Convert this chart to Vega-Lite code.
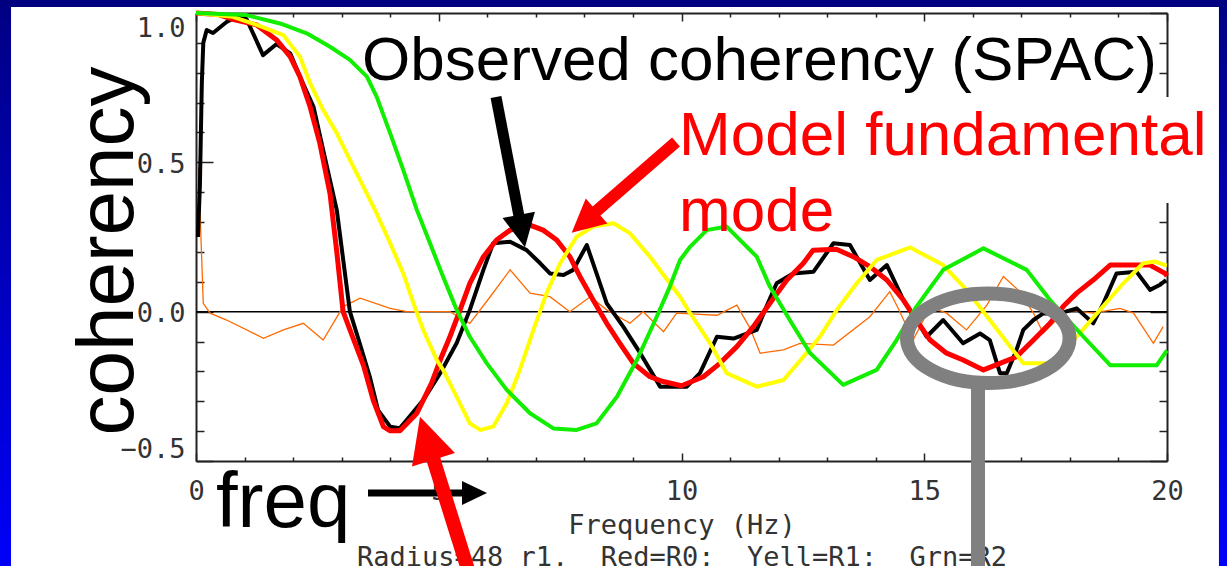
{
  "$schema": "https://vega.github.io/schema/vega-lite/v6.json",
  "width": 971,
  "height": 448,
  "autosize": {"type": "none"},
  "padding": {"left": 196, "top": 13, "right": 60, "bottom": 105},
  "background": "white",
  "config": {"view": {"stroke": null}, "axis": {"grid": false}},
  "datasets": {
    "strips_side": [{"f": -4.3, "f2": -3.81, "v": 1.1, "v2": -0.95}, {"f": 21.07, "f2": 21.4, "v": 1.1, "v2": -0.95}],
    "strip_top": [{"f": -4.3, "f2": 21.4, "v": 1.1, "v2": 1.0201}],
    "zero": [{"f": 0, "f2": 20, "v": 0}],
    "orange": [
      {"f": 0.05, "v": 0.485}, {"f": 0.15, "v": 0.028}, {"f": 0.29, "v": -0.005}, {"f": 0.63, "v": -0.028},
      {"f": 1.39, "v": -0.089}, {"f": 1.8, "v": -0.061}, {"f": 2.21, "v": -0.039}, {"f": 2.62, "v": -0.095},
      {"f": 3.03, "v": 0.017}, {"f": 3.38, "v": 0.045}, {"f": 4.0, "v": 0.011}, {"f": 4.34, "v": 0.0},
      {"f": 5.23, "v": 0.0}, {"f": 5.64, "v": -0.039}, {"f": 6.06, "v": 0.05}, {"f": 6.47, "v": 0.14},
      {"f": 6.88, "v": 0.062}, {"f": 7.29, "v": 0.05}, {"f": 7.7, "v": 0.0}, {"f": 8.12, "v": 0.05},
      {"f": 8.46, "v": 0.006}, {"f": 8.94, "v": -0.039}, {"f": 9.21, "v": 0.0}, {"f": 9.63, "v": -0.067},
      {"f": 9.9, "v": -0.005}, {"f": 10.73, "v": -0.012}, {"f": 11.14, "v": 0.022}, {"f": 11.41, "v": -0.055},
      {"f": 11.62, "v": -0.139}, {"f": 12.1, "v": -0.128}, {"f": 12.44, "v": -0.106}, {"f": 13.13, "v": -0.112},
      {"f": 13.88, "v": -0.017}, {"f": 14.29, "v": 0.067}, {"f": 14.46, "v": 0.012}, {"f": 14.77, "v": -0.095},
      {"f": 15.12, "v": 0.016}, {"f": 15.46, "v": -0.005}, {"f": 15.87, "v": -0.061}, {"f": 16.29, "v": 0.022},
      {"f": 16.63, "v": 0.118}, {"f": 16.93, "v": 0.073}, {"f": 17.25, "v": -0.005}, {"f": 17.45, "v": -0.072},
      {"f": 17.93, "v": 0.006}, {"f": 18.48, "v": -0.005}, {"f": 19.03, "v": 0.011}, {"f": 19.31, "v": -0.005},
      {"f": 19.72, "v": -0.106}, {"f": 19.92, "v": -0.05}
    ],
    "black": [
      {"f": 0.04, "v": 0.25}, {"f": 0.08, "v": 0.42}, {"f": 0.12, "v": 0.765}, {"f": 0.15, "v": 0.9},
      {"f": 0.22, "v": 0.943}, {"f": 0.35, "v": 0.933}, {"f": 0.63, "v": 0.97}, {"f": 0.82, "v": 0.987},
      {"f": 1.04, "v": 0.98}, {"f": 1.38, "v": 0.859}, {"f": 1.66, "v": 0.896}, {"f": 1.94, "v": 0.865},
      {"f": 2.14, "v": 0.787}, {"f": 2.42, "v": 0.686}, {"f": 2.62, "v": 0.541}, {"f": 2.9, "v": 0.34},
      {"f": 3.17, "v": 0.0}, {"f": 3.38, "v": -0.11}, {"f": 3.58, "v": -0.218}, {"f": 3.75, "v": -0.33},
      {"f": 4.0, "v": -0.385}, {"f": 4.2, "v": -0.39}, {"f": 4.34, "v": -0.363}, {"f": 4.68, "v": -0.296},
      {"f": 5.03, "v": -0.206}, {"f": 5.37, "v": -0.105}, {"f": 5.64, "v": 0.006}, {"f": 5.92, "v": 0.14},
      {"f": 6.12, "v": 0.229}, {"f": 6.47, "v": 0.234}, {"f": 6.81, "v": 0.206}, {"f": 7.09, "v": 0.162},
      {"f": 7.29, "v": 0.128}, {"f": 7.57, "v": 0.123}, {"f": 7.77, "v": 0.14}, {"f": 8.05, "v": 0.223},
      {"f": 8.25, "v": 0.128}, {"f": 8.46, "v": 0.028}, {"f": 8.8, "v": -0.05}, {"f": 9.15, "v": -0.139},
      {"f": 9.56, "v": -0.251}, {"f": 10.11, "v": -0.251}, {"f": 10.38, "v": -0.206}, {"f": 10.73, "v": -0.084},
      {"f": 11.07, "v": -0.09}, {"f": 11.55, "v": -0.061}, {"f": 11.75, "v": 0.017}, {"f": 11.96, "v": 0.095},
      {"f": 12.3, "v": 0.128}, {"f": 12.72, "v": 0.134}, {"f": 13.13, "v": 0.229}, {"f": 13.47, "v": 0.223},
      {"f": 13.88, "v": 0.106}, {"f": 14.23, "v": 0.156}, {"f": 14.57, "v": 0.039}, {"f": 14.88, "v": -0.039},
      {"f": 15.05, "v": -0.084}, {"f": 15.39, "v": -0.028}, {"f": 15.8, "v": -0.106}, {"f": 16.15, "v": -0.073},
      {"f": 16.35, "v": -0.095}, {"f": 16.56, "v": -0.206}, {"f": 16.7, "v": -0.206}, {"f": 16.9, "v": -0.128},
      {"f": 17.04, "v": -0.061}, {"f": 17.25, "v": -0.028}, {"f": 17.45, "v": -0.006}, {"f": 17.8, "v": -0.006},
      {"f": 18.14, "v": 0.011}, {"f": 18.48, "v": -0.039}, {"f": 18.69, "v": 0.028}, {"f": 18.96, "v": 0.128},
      {"f": 19.37, "v": 0.134}, {"f": 19.65, "v": 0.073}, {"f": 19.86, "v": 0.09}, {"f": 19.98, "v": 0.106}
    ],
    "red": [
      {"f": 0.0, "v": 1.0}, {"f": 0.45, "v": 0.995}, {"f": 0.73, "v": 0.98}, {"f": 1.25, "v": 0.96},
      {"f": 1.66, "v": 0.91}, {"f": 1.94, "v": 0.854}, {"f": 2.14, "v": 0.787}, {"f": 2.35, "v": 0.686},
      {"f": 2.55, "v": 0.564}, {"f": 2.76, "v": 0.396}, {"f": 2.9, "v": 0.2}, {"f": 3.03, "v": 0.0},
      {"f": 3.24, "v": -0.09}, {"f": 3.45, "v": -0.18}, {"f": 3.65, "v": -0.296}, {"f": 3.86, "v": -0.385},
      {"f": 4.0, "v": -0.399}, {"f": 4.2, "v": -0.399}, {"f": 4.55, "v": -0.34}, {"f": 4.85, "v": -0.24},
      {"f": 5.03, "v": -0.162}, {"f": 5.23, "v": -0.084}, {"f": 5.44, "v": 0.006}, {"f": 5.64, "v": 0.095},
      {"f": 5.92, "v": 0.184}, {"f": 6.19, "v": 0.24}, {"f": 6.47, "v": 0.273}, {"f": 6.88, "v": 0.29},
      {"f": 7.15, "v": 0.273}, {"f": 7.43, "v": 0.24}, {"f": 7.7, "v": 0.184}, {"f": 7.91, "v": 0.117},
      {"f": 8.18, "v": 0.039}, {"f": 8.46, "v": -0.039}, {"f": 8.73, "v": -0.106}, {"f": 9.01, "v": -0.173},
      {"f": 9.35, "v": -0.218}, {"f": 9.62, "v": -0.234}, {"f": 10.0, "v": -0.248}, {"f": 10.45, "v": -0.218},
      {"f": 10.79, "v": -0.173}, {"f": 11.14, "v": -0.117}, {"f": 11.48, "v": -0.05}, {"f": 11.82, "v": 0.028},
      {"f": 12.17, "v": 0.106}, {"f": 12.51, "v": 0.162}, {"f": 12.71, "v": 0.206}, {"f": 13.19, "v": 0.209},
      {"f": 13.54, "v": 0.184}, {"f": 13.88, "v": 0.151}, {"f": 14.23, "v": 0.106}, {"f": 14.57, "v": 0.039},
      {"f": 14.84, "v": -0.028}, {"f": 15.12, "v": -0.095}, {"f": 15.46, "v": -0.139}, {"f": 15.8, "v": -0.162},
      {"f": 16.22, "v": -0.195}, {"f": 16.56, "v": -0.173}, {"f": 16.9, "v": -0.151}, {"f": 17.25, "v": -0.095},
      {"f": 17.59, "v": -0.039}, {"f": 17.86, "v": 0.017}, {"f": 18.14, "v": 0.062}, {"f": 18.48, "v": 0.106},
      {"f": 18.83, "v": 0.156}, {"f": 19.65, "v": 0.156}, {"f": 19.96, "v": 0.128}, {"f": 20.0, "v": 0.12}
    ],
    "yellow": [
      {"f": 0.0, "v": 1.0}, {"f": 0.76, "v": 0.987}, {"f": 1.25, "v": 0.96}, {"f": 1.8, "v": 0.926},
      {"f": 2.14, "v": 0.854}, {"f": 2.35, "v": 0.765}, {"f": 2.62, "v": 0.675}, {"f": 2.9, "v": 0.597},
      {"f": 3.17, "v": 0.508}, {"f": 3.45, "v": 0.418}, {"f": 3.72, "v": 0.329}, {"f": 4.0, "v": 0.229},
      {"f": 4.27, "v": 0.128}, {"f": 4.48, "v": 0.028}, {"f": 4.68, "v": -0.061}, {"f": 4.96, "v": -0.162},
      {"f": 5.09, "v": -0.195}, {"f": 5.37, "v": -0.285}, {"f": 5.64, "v": -0.374}, {"f": 5.85, "v": -0.396},
      {"f": 6.12, "v": -0.385}, {"f": 6.4, "v": -0.307}, {"f": 6.67, "v": -0.195}, {"f": 6.95, "v": -0.061},
      {"f": 7.22, "v": 0.062}, {"f": 7.5, "v": 0.162}, {"f": 7.84, "v": 0.251}, {"f": 8.18, "v": 0.285},
      {"f": 8.6, "v": 0.296}, {"f": 8.94, "v": 0.262}, {"f": 9.35, "v": 0.184}, {"f": 9.69, "v": 0.11},
      {"f": 9.97, "v": 0.05}, {"f": 10.18, "v": -0.006}, {"f": 10.59, "v": -0.106}, {"f": 10.93, "v": -0.206},
      {"f": 11.55, "v": -0.251}, {"f": 12.1, "v": -0.229}, {"f": 12.51, "v": -0.151}, {"f": 12.85, "v": -0.084},
      {"f": 13.2, "v": 0.006}, {"f": 13.61, "v": 0.095}, {"f": 14.02, "v": 0.173}, {"f": 14.71, "v": 0.215},
      {"f": 15.39, "v": 0.156}, {"f": 15.87, "v": 0.073}, {"f": 16.35, "v": -0.028}, {"f": 16.77, "v": -0.117},
      {"f": 17.04, "v": -0.173}, {"f": 17.59, "v": -0.173}, {"f": 18.14, "v": -0.084}, {"f": 18.62, "v": 0.006},
      {"f": 19.1, "v": 0.095}, {"f": 19.51, "v": 0.162}, {"f": 19.75, "v": 0.168}, {"f": 19.96, "v": 0.156},
      {"f": 20.0, "v": 0.155}
    ],
    "green": [
      {"f": 0.0, "v": 1.0}, {"f": 1.04, "v": 0.993}, {"f": 1.73, "v": 0.965}, {"f": 2.28, "v": 0.932},
      {"f": 2.76, "v": 0.887}, {"f": 3.17, "v": 0.843}, {"f": 3.52, "v": 0.787}, {"f": 3.72, "v": 0.72},
      {"f": 4.0, "v": 0.597}, {"f": 4.27, "v": 0.474}, {"f": 4.55, "v": 0.34}, {"f": 4.82, "v": 0.229},
      {"f": 5.09, "v": 0.117}, {"f": 5.37, "v": 0.006}, {"f": 5.64, "v": -0.084}, {"f": 5.99, "v": -0.173},
      {"f": 6.4, "v": -0.262}, {"f": 6.88, "v": -0.34}, {"f": 7.36, "v": -0.391}, {"f": 7.84, "v": -0.396},
      {"f": 8.25, "v": -0.374}, {"f": 8.67, "v": -0.285}, {"f": 9.08, "v": -0.162}, {"f": 9.49, "v": -0.017},
      {"f": 9.76, "v": 0.084}, {"f": 9.97, "v": 0.173}, {"f": 10.18, "v": 0.218}, {"f": 10.52, "v": 0.273},
      {"f": 10.93, "v": 0.285}, {"f": 11.55, "v": 0.184}, {"f": 11.82, "v": 0.084}, {"f": 12.23, "v": -0.028},
      {"f": 12.65, "v": -0.139}, {"f": 13.33, "v": -0.245}, {"f": 14.02, "v": -0.195}, {"f": 14.43, "v": -0.095},
      {"f": 14.84, "v": 0.017}, {"f": 15.39, "v": 0.14}, {"f": 16.22, "v": 0.212}, {"f": 17.11, "v": 0.14},
      {"f": 17.59, "v": 0.039}, {"f": 18.28, "v": -0.084}, {"f": 18.83, "v": -0.179}, {"f": 19.79, "v": -0.179},
      {"f": 19.96, "v": -0.139}, {"f": 20.0, "v": -0.13}
    ],
    "box": [{"f": 9.87, "f2": 21.05, "v": 0.719, "v2": 0.364}],
    "t_obs": [{"f": 3.42, "v": 0.776, "label": "Observed coherency (SPAC)"}],
    "t_model": [{"f": 9.95, "v": 0.5246, "label": "Model fundamental"}, {"f": 9.95, "v": 0.27, "label": "mode"}],
    "t_freq": [{"f": 0.41, "v": -0.721, "label": "freq"}],
    "t_coh": [{"f": -1.3, "v": 0.203, "label": "coherency"}],
    "a1_shaft": [{"f": 3.543, "v": -0.6071, "f2": 5.643, "v2": -0.6071}],
    "a1_tip": [{"f": 5.994, "v": -0.6071}],
    "a2_shaft": [{"f": 6.179, "v": 0.7188, "f2": 6.667, "v2": 0.3076}],
    "a2_tip": [{"f": 6.776, "v": 0.2155}],
    "a3_shaft": [{"f": 9.887, "v": 0.568, "f2": 8.173, "v2": 0.326}],
    "a3_tip": [{"f": 7.738, "v": 0.2644}],
    "a4_shaft": [{"f": 5.668, "v": -0.898, "f2": 4.861, "v2": -0.4796}],
    "a4_tip": [{"f": 4.614, "v": -0.3517}],
    "ellipse": [{"f": 16.319, "v": -0.0892}],
    "stem": [{"f": 16.107, "v": -0.2556, "v2": -0.898}]
  },
  "encoding": {
    "x": {"field": "f", "type": "quantitative", "scale": {"domain": [0, 20], "nice": false, "zero": false}, "axis": null},
    "y": {"field": "v", "type": "quantitative", "scale": {"domain": [-0.5, 1], "nice": false, "zero": false}, "axis": null}
  },
  "resolve": {"axis": {"x": "independent", "y": "independent"}},
  "layer": [
    {
      "data": {"name": "strips_side"},
      "mark": {"type": "rect", "fill": {"gradient": "linear", "x1": 0, "y1": 0, "x2": 0, "y2": 1, "stops": [{"offset": 0, "color": "#000080"}, {"offset": 1, "color": "#0000ff"}]}},
      "encoding": {"x2": {"field": "f2"}, "y2": {"field": "v2"}}
    },
    {
      "data": {"name": "strip_top"},
      "mark": {"type": "rect", "fill": "#000080"},
      "encoding": {"x2": {"field": "f2"}, "y2": {"field": "v2"}}
    },
    {
      "data": {"name": "zero"},
      "mark": {"type": "rule", "color": "#000000", "strokeWidth": 1.5},
      "encoding": {"x2": {"field": "f2"}}
    },
    {
      "data": {"name": "orange"},
      "mark": {"type": "line", "color": "#ff6a00", "strokeWidth": 1.3},
      "encoding": {
        "x": {"field": "f", "type": "quantitative", "scale": {"domain": [0, 20], "nice": false, "zero": false},
          "axis": {"orient": "bottom", "values": [0, 5, 10, 15, 20], "format": "d", "ticks": false, "domain": true, "domainColor": "#222222", "domainWidth": 2, "grid": false,
            "labelFont": "DejaVu Sans Mono", "labelFontSize": 27, "labelColor": "#333333", "labelPadding": 17, "labelFlush": false, "labelOverlap": false,
            "title": ["Frequency (Hz)", "Radius=48 r1,\u00a0 Red=R0;\u00a0 Yell=R1;\u00a0 Grn=R2"], "titleFont": "DejaVu Sans Mono", "titleFontSize": 27, "titleFontWeight": "normal", "titleColor": "#333333",
            "titleY": 72, "titleBaseline": "alphabetic", "titleLineHeight": 32}},
        "y": {"field": "v", "type": "quantitative", "scale": {"domain": [-0.5, 1], "nice": false, "zero": false},
          "axis": {"orient": "left", "values": [-0.5, 0, 0.5, 1], "format": ".1f", "ticks": false, "domain": true, "domainColor": "#222222", "domainWidth": 2, "grid": false,
            "labelFont": "DejaVu Sans Mono", "labelFontSize": 27, "labelColor": "#333333", "labelPadding": 11, "labelFlush": true, "labelOffset": 2, "labelOverlap": false, "title": null}}
      }
    },
    {
      "data": {"name": "black"},
      "mark": {"type": "line", "color": "#000000", "strokeWidth": 4, "strokeJoin": "round"},
      "encoding": {
        "x": {"field": "f", "type": "quantitative", "scale": {"domain": [0, 20], "nice": false, "zero": false},
          "axis": {"orient": "bottom", "values": [0, 5, 10, 15, 20], "ticks": true, "tickSize": -8, "tickColor": "#222222", "tickWidth": 1.5, "labels": false, "domain": false, "grid": false, "title": null}},
        "y": {"field": "v", "type": "quantitative", "scale": {"domain": [-0.5, 1], "nice": false, "zero": false},
          "axis": {"orient": "left", "values": [-0.5, 0, 0.5, 1], "ticks": true, "tickSize": -17, "tickColor": "#222222", "tickWidth": 1.5, "labels": false, "domain": false, "grid": false, "title": null}}
      }
    },
    {
      "data": {"name": "red"},
      "mark": {"type": "line", "color": "#ff0000", "strokeWidth": 5, "strokeJoin": "round"},
      "encoding": {
        "x": {"field": "f", "type": "quantitative", "scale": {"domain": [0, 20], "nice": false, "zero": false},
          "axis": {"orient": "bottom", "values": [1, 2, 3, 4, 6, 7, 8, 9, 11, 12, 13, 14, 16, 17, 18, 19], "ticks": true, "tickSize": -4, "tickColor": "#222222", "tickWidth": 1.5, "labels": false, "domain": false, "grid": false, "title": null}},
        "y": {"field": "v", "type": "quantitative", "scale": {"domain": [-0.5, 1], "nice": false, "zero": false},
          "axis": {"orient": "left", "values": [-0.4, -0.3, -0.2, -0.1, 0.1, 0.2, 0.3, 0.4, 0.6, 0.7, 0.8, 0.9], "ticks": true, "tickSize": -8, "tickColor": "#222222", "tickWidth": 1.5, "labels": false, "domain": false, "grid": false, "title": null}}
      }
    },
    {
      "data": {"name": "yellow"},
      "mark": {"type": "line", "color": "#ffff00", "strokeWidth": 4, "strokeJoin": "round"},
      "encoding": {
        "x": {"field": "f", "type": "quantitative", "scale": {"domain": [0, 20], "nice": false, "zero": false},
          "axis": {"orient": "top", "values": [0, 5, 10, 15, 20], "ticks": true, "tickSize": -8, "tickColor": "#222222", "tickWidth": 1.5, "labels": false, "domain": true, "domainColor": "#222222", "domainWidth": 2, "grid": false, "title": null}},
        "y": {"field": "v", "type": "quantitative", "scale": {"domain": [-0.5, 1], "nice": false, "zero": false},
          "axis": {"orient": "right", "values": [-0.5, 0, 0.5, 1], "ticks": true, "tickSize": -17, "tickColor": "#222222", "tickWidth": 1.5, "labels": false, "domain": true, "domainColor": "#222222", "domainWidth": 2, "grid": false, "title": null}}
      }
    },
    {
      "data": {"name": "green"},
      "mark": {"type": "line", "color": "#11ee00", "strokeWidth": 4, "strokeJoin": "round"},
      "encoding": {
        "x": {"field": "f", "type": "quantitative", "scale": {"domain": [0, 20], "nice": false, "zero": false},
          "axis": {"orient": "top", "values": [1, 2, 3, 4, 6, 7, 8, 9, 11, 12, 13, 14, 16, 17, 18, 19], "ticks": true, "tickSize": -4, "tickColor": "#222222", "tickWidth": 1.5, "labels": false, "domain": false, "grid": false, "title": null}},
        "y": {"field": "v", "type": "quantitative", "scale": {"domain": [-0.5, 1], "nice": false, "zero": false},
          "axis": {"orient": "right", "values": [-0.4, -0.3, -0.2, -0.1, 0.1, 0.2, 0.3, 0.4, 0.6, 0.7, 0.8, 0.9], "ticks": true, "tickSize": -8, "tickColor": "#222222", "tickWidth": 1.5, "labels": false, "domain": false, "grid": false, "title": null}}
      }
    },
    {
      "data": {"name": "box"},
      "mark": {"type": "rect", "fill": "#ffffff"},
      "encoding": {"x2": {"field": "f2"}, "y2": {"field": "v2"}}
    },
    {
      "data": {"name": "t_obs"},
      "mark": {"type": "text", "font": "Liberation Sans", "fontSize": 62, "color": "#000000", "align": "left", "baseline": "alphabetic"},
      "encoding": {"text": {"field": "label"}}
    },
    {
      "data": {"name": "t_model"},
      "mark": {"type": "text", "font": "Liberation Sans", "fontSize": 62, "color": "#ff0000", "align": "left", "baseline": "alphabetic"},
      "encoding": {"text": {"field": "label"}}
    },
    {
      "data": {"name": "t_freq"},
      "mark": {"type": "text", "font": "Liberation Sans", "fontSize": 78, "color": "#000000", "align": "left", "baseline": "alphabetic"},
      "encoding": {"text": {"field": "label"}}
    },
    {
      "data": {"name": "t_coh"},
      "mark": {"type": "text", "font": "Liberation Sans", "fontSize": 80, "color": "#000000", "align": "center", "baseline": "alphabetic", "angle": 270},
      "encoding": {"text": {"field": "label"}}
    },
    {
      "data": {"name": "a1_shaft"},
      "mark": {"type": "rule", "color": "#000000", "strokeWidth": 7, "strokeCap": "butt"},
      "encoding": {"x2": {"field": "f2"}, "y2": {"field": "v2"}}
    },
    {
      "data": {"name": "a1_tip"},
      "mark": {"type": "point", "shape": "M 0 0 L -1 -0.48 L -1 0.48 Z", "size": 2500, "angle": 0, "filled": true, "color": "#000000", "opacity": 1, "strokeWidth": 0}
    },
    {
      "data": {"name": "a2_shaft"},
      "mark": {"type": "rule", "color": "#000000", "strokeWidth": 11, "strokeCap": "butt"},
      "encoding": {"x2": {"field": "f2"}, "y2": {"field": "v2"}}
    },
    {
      "data": {"name": "a2_tip"},
      "mark": {"type": "point", "shape": "M 0 0 L -1 -0.5 L -1 0.5 Z", "size": 4356, "angle": 79.1, "filled": true, "color": "#000000", "opacity": 1, "strokeWidth": 0}
    },
    {
      "data": {"name": "a3_shaft"},
      "mark": {"type": "rule", "color": "#ff0000", "strokeWidth": 12, "strokeCap": "butt"},
      "encoding": {"x2": {"field": "f2"}, "y2": {"field": "v2"}}
    },
    {
      "data": {"name": "a3_tip"},
      "mark": {"type": "point", "shape": "M 0 0 L -1 -0.5 L -1 0.5 Z", "size": 4356, "angle": 139, "filled": true, "color": "#ff0000", "opacity": 1, "strokeWidth": 0}
    },
    {
      "data": {"name": "a4_shaft"},
      "mark": {"type": "rule", "color": "#ff0000", "strokeWidth": 14, "strokeCap": "butt"},
      "encoding": {"x2": {"field": "f2"}, "y2": {"field": "v2"}}
    },
    {
      "data": {"name": "a4_tip"},
      "mark": {"type": "point", "shape": "M 0 0 L -1 -0.5 L -1 0.5 Z", "size": 8100, "angle": 252.6, "filled": true, "color": "#ff0000", "opacity": 1, "strokeWidth": 0}
    },
    {
      "data": {"name": "stem"},
      "mark": {"type": "rule", "color": "#808080", "strokeWidth": 14, "strokeCap": "butt"},
      "encoding": {"y2": {"field": "v2"}}
    },
    {
      "data": {"name": "ellipse"},
      "mark": {"type": "point", "shape": "M -1 0 C -1 -0.3038 -0.5523 -0.55 0 -0.55 C 0.5523 -0.55 1 -0.3038 1 0 C 1 0.3038 0.5523 0.55 0 0.55 C -0.5523 0.55 -1 0.3038 -1 0 Z", "size": 26439, "filled": false, "color": "#808080", "strokeWidth": 14, "opacity": 1}
    }
  ]
}
